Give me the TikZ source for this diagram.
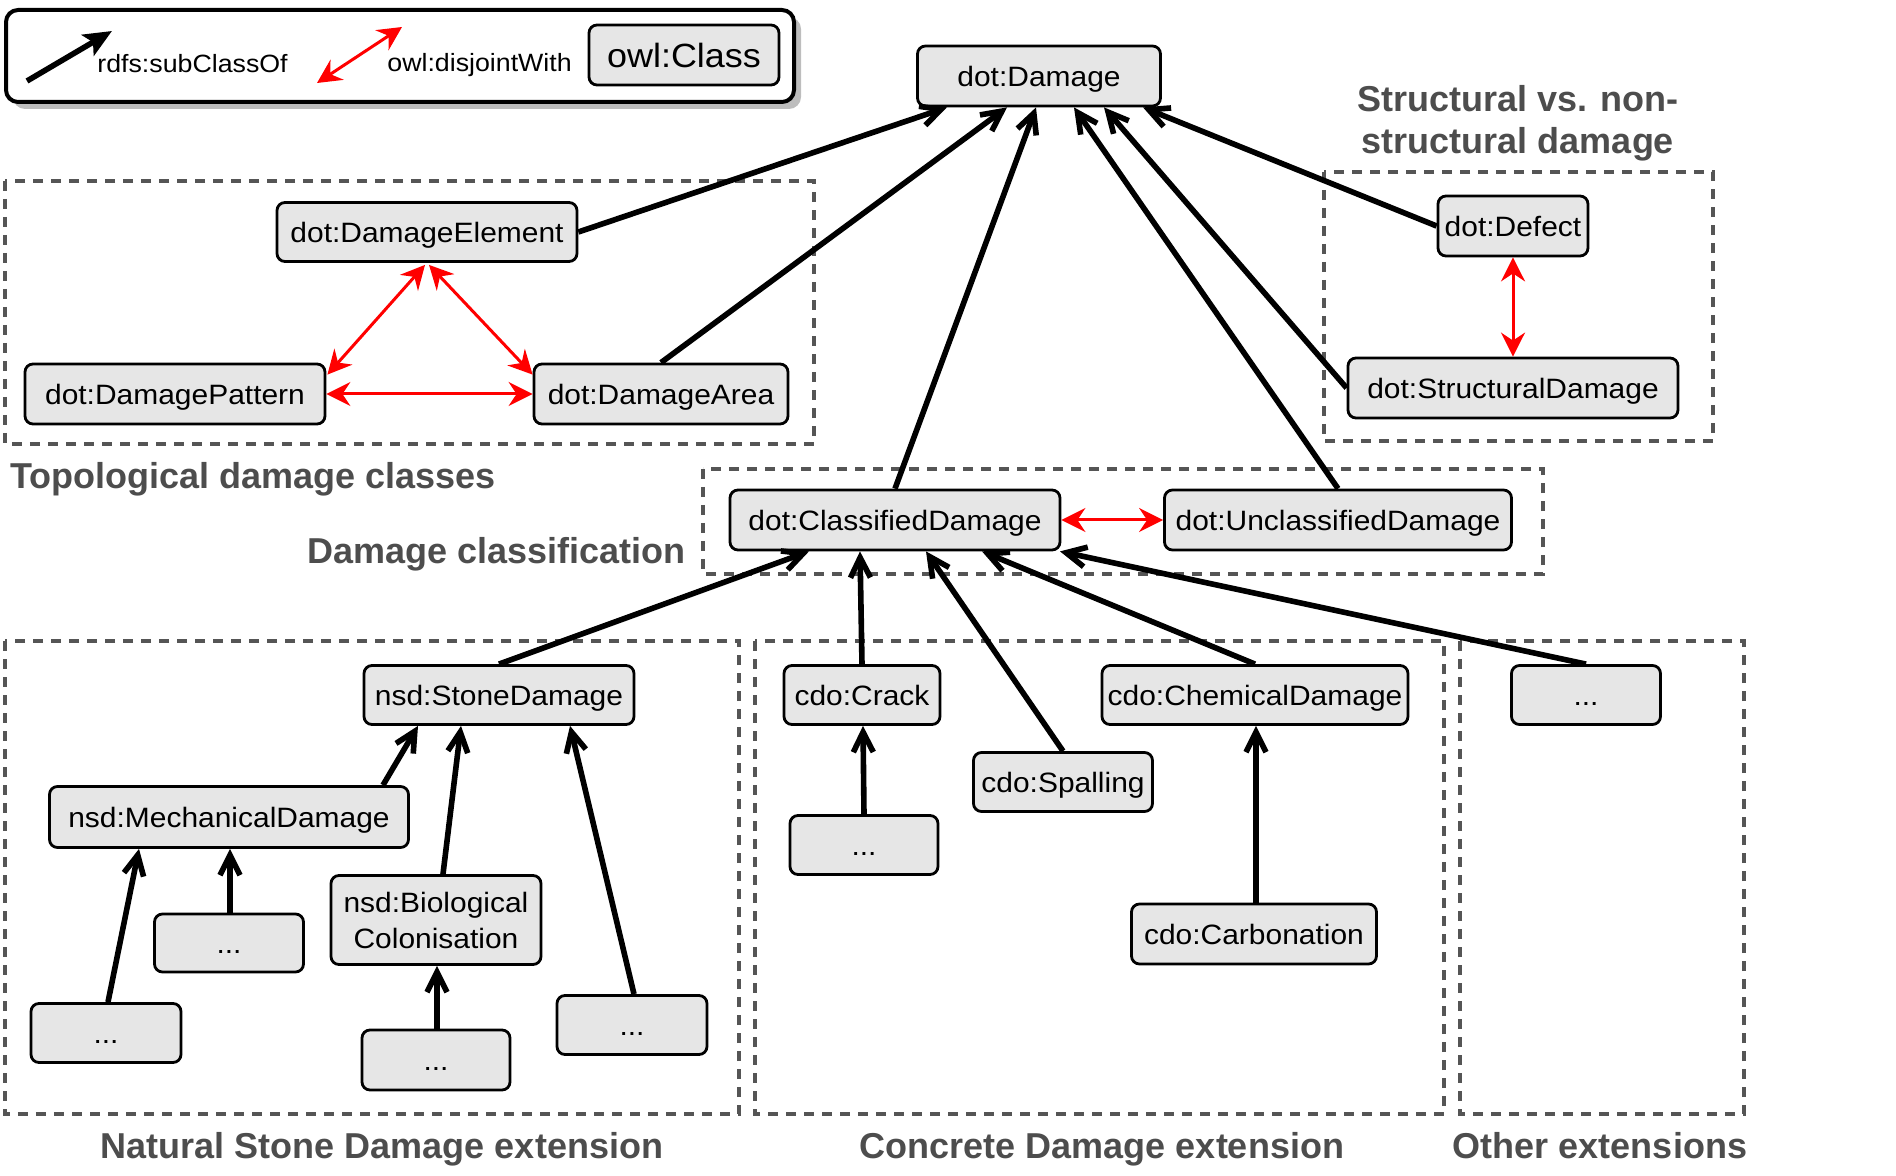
\documentclass[tikz,border=0pt]{standalone}
\usepackage{fontspec}
\setmainfont{Liberation Sans}
\newfontfamily\nodefont[FakeStretch=1.07]{Liberation Sans}
\usetikzlibrary{arrows.meta,calc}
\definecolor{nodefill}{HTML}{E6E6E6}
\definecolor{headgray}{HTML}{4D4D4D}
\definecolor{dashgray}{HTML}{555555}
\definecolor{shadowgray}{HTML}{BDBDBD}
\begin{document}
\begin{tikzpicture}[x=0.5pt,y=-0.5pt,
  clsbase/.style={draw=black, line width=1.4pt, fill=nodefill, rounded corners=4pt,
    inner sep=0pt, font=\nodefont\fontsize{14}{18}\selectfont, align=center},
  cls/.style={clsbase, text height=12pt, text depth=1.3pt},
  sub/.style={line width=2.8pt, -{Straight Barb[length=10pt,width=10pt]}},
  disj/.style={red, line width=1.5pt,
    {Stealth[length=12pt,width=12pt,inset=4pt]}-{Stealth[length=12pt,width=12pt,inset=4pt]}},
  grp/.style={draw=dashgray, line width=1.6pt, dash pattern=on 5pt off 4pt},
  heading/.style={text=headgray, font=\fontsize{18}{21}\selectfont\bfseries, inner sep=0pt, align=center},
  legtxt/.style={font=\nodefont\fontsize{12.5}{15}\selectfont, inner sep=0pt}
]
\useasboundingbox (0,0) rectangle (1896,1176);

% ---------- legend ----------
\fill[shadowgray, rounded corners=6pt] (13,17) rectangle (801,109);
\draw[line width=2pt, fill=white, rounded corners=6pt] (6,10) rectangle (794,102);
\coordinate (la1) at (27,81);
\coordinate (la2) at (112,31);
\draw[line width=2.8pt, -{Stealth[length=14pt,width=12pt,inset=3pt]}] (la1) -- (la2);
\node[legtxt, anchor=base west] (lsub) at (97,73) {rdfs:subClassOf};
\coordinate (lr1) at (317,83);
\coordinate (lr2) at (402,27);
\draw[disj] (lr1) -- (lr2);
\node[legtxt, anchor=base west] (ldis) at (387,72) {owl:disjointWith};
\node[clsbase, minimum width=95pt, minimum height=30pt, text height=14pt, text depth=1.6pt,
  font=\nodefont\fontsize{16.8}{20}\selectfont] (lcls) at (684,55) {owl:Class};

% ---------- group boxes ----------
\draw[grp] (5,181) rectangle (814,444);
\draw[grp] (1324,172) rectangle (1713,441);
\draw[grp] (703,469) rectangle (1543,574);
\draw[grp] (5,641) rectangle (739,1114);
\draw[grp] (755,641) rectangle (1444,1114);
\draw[grp] (1460,641) rectangle (1744,1114);

% ---------- headings ----------
\node[heading, anchor=base west] (htopo) at (10,488) {Topological damage classes};
\node[heading, anchor=base east] (hclass) at (686,563) {Damage classification};
\node[heading] (hstruct) at (1518,123.5) {Structural vs. non-\\structural damage};
\node[heading, anchor=base] (hstone) at (382,1158) {Natural Stone Damage extension};
\node[heading, anchor=base] (hconc) at (1102,1158) {Concrete Damage extension};
\node[heading, anchor=base] (hother) at (1600,1158) {Other extensions};

% ---------- nodes ----------
\node[cls, minimum width=121.5pt, minimum height=30pt] (damage) at (1039,76) {dot:Damage};
\node[cls, minimum width=150pt, minimum height=29.5pt] (delem) at (427,232) {dot:DamageElement};
\node[cls, minimum width=150pt, minimum height=30pt] (dpat) at (175,394) {dot:DamagePattern};
\node[cls, minimum width=127pt, minimum height=30pt] (darea) at (661,394) {dot:DamageArea};
\node[cls, minimum width=75pt, minimum height=30pt] (defect) at (1513,226) {dot:Defect};
\node[cls, minimum width=165pt, minimum height=30pt] (struct) at (1513,388) {dot:StructuralDamage};
\node[cls, minimum width=165pt, minimum height=30pt] (classd) at (895,520) {dot:ClassifiedDamage};
\node[cls, minimum width=173.5pt, minimum height=30pt] (unclass) at (1338,520) {dot:UnclassifiedDamage};

\node[cls, minimum width=135pt, minimum height=29.5pt] (stone) at (499,695) {nsd:StoneDamage};
\node[cls, minimum width=179.5pt, minimum height=30.5pt] (mech) at (229,817) {nsd:MechanicalDamage};
\node[cls, minimum width=74.5pt, minimum height=29pt] (m1) at (229,943) {...};
\node[cls, minimum width=75pt, minimum height=29.5pt] (m2) at (106,1033) {...};
\node[clsbase, minimum width=105pt, minimum height=44.5pt] (bio) at (436,920) {nsd:Biological\\Colonisation};
\node[cls, minimum width=74pt, minimum height=30pt] (b1) at (436,1060) {...};
\node[cls, minimum width=75pt, minimum height=29.5pt] (s1) at (632,1025) {...};

\node[cls, minimum width=78pt, minimum height=29.5pt] (crack) at (862,695) {cdo:Crack};
\node[cls, minimum width=74pt, minimum height=29.5pt] (c1) at (864,845) {...};
\node[cls, minimum width=89.5pt, minimum height=29.5pt] (spall) at (1063,782) {cdo:Spalling};
\node[cls, minimum width=153pt, minimum height=29.5pt] (chem) at (1255,695) {cdo:ChemicalDamage};
\node[cls, minimum width=122.5pt, minimum height=30pt] (carb) at (1254,934) {cdo:Carbonation};
\node[cls, minimum width=74.5pt, minimum height=29.5pt] (other) at (1586,695) {...};

% ---------- subclass edges ----------
\draw[sub] (delem.east) -- ($(damage.south)+(-92,0)$);
\draw[sub] (darea.north) -- ($(damage.south)+(-32,0)$);
\draw[sub] (classd.north) -- ($(damage.south)+(-3,0)$);
\draw[sub] (unclass.north) -- ($(damage.south)+(35,0)$);
\draw[sub] (struct.west) -- ($(damage.south)+(65,0)$);
\draw[sub] (defect.west) -- ($(damage.south)+(104,0)$);

\draw[sub] (stone.north) -- ($(classd.south)+(-86,0)$);
\draw[sub] (crack.north) -- ($(classd.south)+(-35,0)$);
\draw[sub] (spall.north) -- ($(classd.south)+(31,0)$);
\draw[sub] (chem.north) -- ($(classd.south)+(87,0)$);
\draw[sub] (other.north) -- ($(classd.south)+(165,0)$);

\draw[sub] ($(mech.north)+(154,0)$) -- ($(stone.south)+(-81,0)$);
\draw[sub] ($(bio.north)+(7,0)$) -- ($(stone.south)+(-38,0)$);
\draw[sub] ($(s1.north)+(2,0)$) -- ($(stone.south)+(71,0)$);
\draw[sub] ($(m2.north)+(2,0)$) -- ($(mech.south)+(-90,0)$);
\draw[sub] ($(m1.north)+(1,0)$) -- ($(mech.south)+(1,0)$);
\draw[sub] ($(b1.north)+(1,0)$) -- ($(bio.south)+(1,0)$);
\draw[sub] (c1.north) -- ($(crack.south)+(1,0)$);
\draw[sub] ($(carb.north)+(2,0)$) -- ($(chem.south)+(1,0)$);

% ---------- disjoint edges ----------
\draw[disj] ($(delem.south)+(-2,2)$) -- ($(dpat.north east)+(1,12)$);
\draw[disj] ($(delem.south)+(2,2)$) -- ($(darea.north west)+(0,12)$);
\draw[disj] (dpat.east) -- (darea.west);
\draw[disj] (defect.south) -- (struct.north);
\draw[disj] (classd.east) -- (unclass.west);
\end{tikzpicture}
\end{document}
